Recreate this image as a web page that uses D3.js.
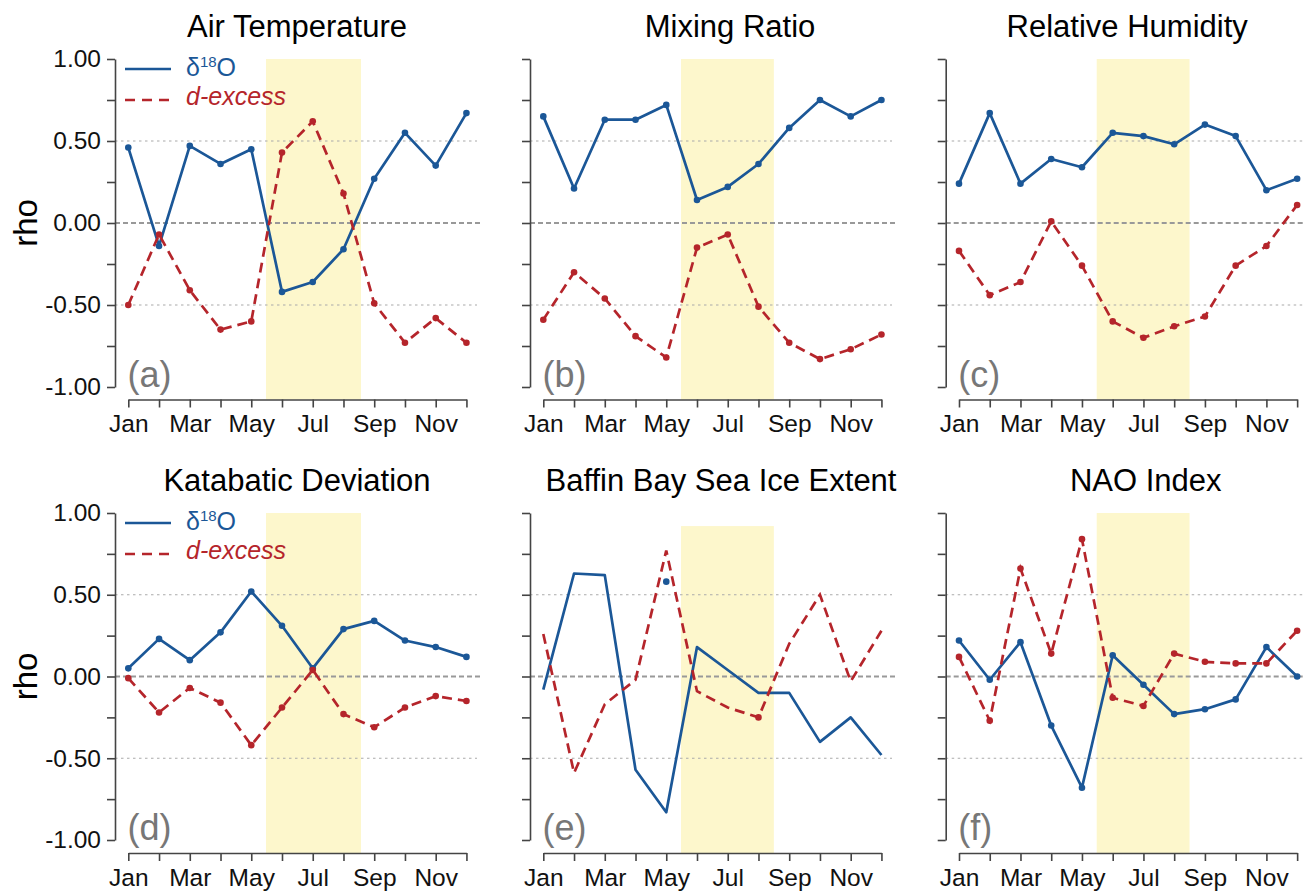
<!DOCTYPE html>
<html>
<head>
<meta charset="utf-8">
<script src="https://cdn.jsdelivr.net/npm/d3@7"></script>
<style>
  html, body { margin: 0; padding: 0; background: #fff; }
  svg { display: block; font-family: "Liberation Sans", Arial, sans-serif; }
</style>
</head>
<body>
<svg id="chart" width="1303" height="891"></svg>
<script>
// ---------------- DATA ----------------
const months = [1,2,3,4,5,6,7,8,9,10,11,12];
const monthLabels = ["Jan","","Mar","","May","","Jul","","Sep","","Nov",""];
const yTickValues = [-1,-0.75,-0.5,-0.25,0,0.25,0.5,0.75,1];
const yTickLabels = ["-1.00","","-0.50","","0.00","","0.50","","1.00"];

const titles = ["Air Temperature","Mixing Ratio","Relative Humidity",
                "Katabatic Deviation","Baffin Bay Sea Ice Extent","NAO Index"];
const panelLetters = ["(a)","(b)","(c)","(d)","(e)","(f)"];

// delta18O correlations (rho) per month
const d18O_airTemp   = [0.46,-0.14,0.47,0.36,0.45,-0.42,-0.36,-0.16,0.27,0.55,0.35,0.67];
const d18O_mixRatio  = [0.65,0.21,0.63,0.63,0.72,0.14,0.22,0.36,0.58,0.75,0.65,0.75];
const d18O_relHum    = [0.24,0.67,0.24,0.39,0.34,0.55,0.53,0.48,0.60,0.53,0.20,0.27];
const d18O_katabatic = [0.05,0.23,0.10,0.27,0.52,0.31,0.05,0.29,0.34,0.22,0.18,0.12];
const d18O_seaIce    = [-0.08,0.63,0.62,-0.57,-0.83,0.18,0.04,-0.10,-0.10,-0.40,-0.25,-0.48];
const d18O_nao       = [0.22,-0.02,0.21,-0.30,-0.68,0.13,-0.05,-0.23,-0.20,-0.14,0.18,0.00];

// d-excess correlations (rho) per month
const dex_airTemp    = [-0.50,-0.07,-0.41,-0.65,-0.60,0.43,0.62,0.18,-0.49,-0.73,-0.58,-0.73];
const dex_mixRatio   = [-0.59,-0.30,-0.46,-0.69,-0.82,-0.15,-0.07,-0.51,-0.73,-0.83,-0.77,-0.68];
const dex_relHum     = [-0.17,-0.44,-0.36,0.01,-0.26,-0.60,-0.70,-0.63,-0.57,-0.26,-0.14,0.11];
const dex_katabatic  = [-0.01,-0.22,-0.07,-0.16,-0.42,-0.19,0.04,-0.23,-0.31,-0.19,-0.12,-0.15];
const dex_seaIce     = [0.26,-0.59,-0.17,-0.02,0.77,-0.09,-0.19,-0.25,0.20,0.50,-0.03,0.28];
const dex_nao        = [0.12,-0.27,0.66,0.14,0.84,-0.13,-0.18,0.14,0.09,0.08,0.08,0.28];

const d18OSeries = [d18O_airTemp,d18O_mixRatio,d18O_relHum,d18O_katabatic,d18O_seaIce,d18O_nao];
const dexSeries  = [dex_airTemp,dex_mixRatio,dex_relHum,dex_katabatic,dex_seaIce,dex_nao];

// which months carry a point marker
const allMonths = months;
const d18OMarked = [allMonths,allMonths,allMonths,allMonths,[],allMonths];
const dexMarked  = [allMonths,allMonths,allMonths,allMonths,[8],allMonths];
// stray isolated marker in panel (e)
const extraDotMonth = [null,null,null,null,5,null];
const extraDotValue = [null,null,null,null,0.58,null];

// summer shading (month positions) and top (rho)
const bandStart = [5.48,5.48,5.48,5.48,5.48,5.48];
const bandEnd   = [8.57,8.5,8.5,8.57,8.5,8.5];
const bandTop   = [1,1,1,1,0.92,1];

const legendLabels = ["δ", "18", "O", "d-excess"];

// ---------------- LAYOUT ----------------
const axisXs = [115, 530, 945.7];
const rowTop = [59, 513];
const rowBot = [387, 840];
const xAxisYs = [399.5, 853];
const janOffset = 13.3, monthStep = 30.74;
const titleDx = [182, 200, 181.5, 182, 191, 200];

const BLUE = "#1b5797", RED = "#b5252b", GREY = "#999";

const svg = d3.select("#chart");

for (let p = 0; p < 6; p++) {
  const col = p % 3, row = Math.floor(p / 3);
  const ax = axisXs[col];
  const x = d3.scaleLinear().domain([1, 12])
              .range([ax + janOffset, ax + janOffset + 11 * monthStep]);
  const y = d3.scaleLinear().domain([-1, 1]).range([rowBot[row], rowTop[row]]);
  const g = svg.append("g");

  // shading band
  g.append("rect")
    .attr("x", x(bandStart[p]))
    .attr("y", y(bandTop[p]))
    .attr("width", x(bandEnd[p]) - x(bandStart[p]))
    .attr("height", xAxisYs[row] - y(bandTop[p]))
    .attr("fill", "#fdf7cc");

  // reference lines
  const lineEnd = ax + 365;
  [0.5, -0.5].forEach(v => {
    g.append("line")
      .attr("x1", ax).attr("x2", lineEnd - 3)
      .attr("y1", y(v)).attr("y2", y(v))
      .attr("stroke", "#aaa").attr("stroke-width", 1.2)
      .attr("stroke-dasharray", "2.5,3.5");
  });
  g.append("line")
    .attr("x1", ax).attr("x2", lineEnd)
    .attr("y1", y(0)).attr("y2", y(0))
    .attr("stroke", GREY).attr("stroke-width", 2.2)
    .attr("stroke-dasharray", "5,3");

  // y axis
  const yAxis = d3.axisLeft(y).tickValues(yTickValues)
      .tickSize(8).tickSizeOuter(0).tickPadding(6)
      .tickFormat((d, i) => col === 0 ? yTickLabels[i] : "");
  const ya = g.append("g").attr("transform", `translate(${ax},0)`).call(yAxis);
  ya.selectAll("path, line").attr("stroke", "#444").attr("stroke-width", 1.6);
  ya.selectAll("text").attr("font-size", 24.5).attr("fill", "#111")
    .attr("font-family", "'Liberation Sans', Arial, sans-serif");

  // x axis
  const xAxis = d3.axisBottom(x).tickValues(months)
      .tickSize(8).tickSizeOuter(0).tickPadding(7.5)
      .tickFormat((d, i) => monthLabels[i]);
  const xa = g.append("g").attr("transform", `translate(0,${xAxisYs[row]})`).call(xAxis);
  xa.selectAll("path, line").attr("stroke", "#444").attr("stroke-width", 1.6);
  xa.selectAll("text").attr("font-size", 24.5).attr("fill", "#111")
    .attr("font-family", "'Liberation Sans', Arial, sans-serif");

  // series lines
  const line = d3.line().x((d, i) => x(months[i])).y(d => y(d));
  g.append("path").datum(d18OSeries[p])
    .attr("d", line).attr("fill", "none")
    .attr("stroke", BLUE).attr("stroke-width", 2.7)
    .attr("stroke-linejoin", "round");
  g.append("path").datum(dexSeries[p])
    .attr("d", line).attr("fill", "none")
    .attr("stroke", RED).attr("stroke-width", 2.7)
    .attr("stroke-dasharray", "10,6");

  // markers
  g.selectAll(".mb").data(d18OMarked[p]).enter().append("circle")
    .attr("cx", m => x(m)).attr("cy", m => y(d18OSeries[p][m - 1]))
    .attr("r", 3.3).attr("fill", BLUE);
  g.selectAll(".mr").data(dexMarked[p]).enter().append("circle")
    .attr("cx", m => x(m)).attr("cy", m => y(dexSeries[p][m - 1]))
    .attr("r", 3.3).attr("fill", RED);
  if (extraDotMonth[p] !== null) {
    g.append("circle")
      .attr("cx", x(extraDotMonth[p])).attr("cy", y(extraDotValue[p]))
      .attr("r", 3.3).attr("fill", BLUE);
  }

  // title
  g.append("text")
    .attr("x", ax + titleDx[p]).attr("y", rowTop[row] - 22)
    .attr("text-anchor", "middle").attr("font-size", 31).attr("fill", "#000")
    .text(titles[p]);

  // panel letter
  g.append("text")
    .attr("x", ax + 12.5).attr("y", rowBot[row])
    .attr("font-size", 36).attr("fill", "#777")
    .text(panelLetters[p]);

  // rho label & legend in left column
  if (col === 0) {
    g.append("text")
      .attr("transform", `translate(37,${y(0)}) rotate(-90)`)
      .attr("text-anchor", "middle").attr("font-size", 33).attr("fill", "#000")
      .text("rho");

    const ly1 = rowTop[row] + 10, ly2 = rowTop[row] + 41;
    g.append("line").attr("x1", ax + 10).attr("x2", ax + 56)
      .attr("y1", ly1).attr("y2", ly1)
      .attr("stroke", BLUE).attr("stroke-width", 2.7);
    g.append("line").attr("x1", ax + 10).attr("x2", ax + 56)
      .attr("y1", ly2).attr("y2", ly2)
      .attr("stroke", RED).attr("stroke-width", 2.7)
      .attr("stroke-dasharray", "10,7");
    const t1 = g.append("text")
      .attr("x", ax + 71).attr("y", rowTop[row] + 17)
      .attr("font-size", 25).attr("fill", BLUE);
    t1.append("tspan").text(legendLabels[0]);
    t1.append("tspan").attr("font-size", 15).attr("dy", -9).text(legendLabels[1]);
    t1.append("tspan").attr("dy", 9).text(legendLabels[2]);
    g.append("text")
      .attr("x", ax + 71).attr("y", rowTop[row] + 46)
      .attr("font-size", 25).attr("font-style", "italic").attr("fill", RED)
      .text(legendLabels[3]);
  }
}
</script>
</body>
</html>
